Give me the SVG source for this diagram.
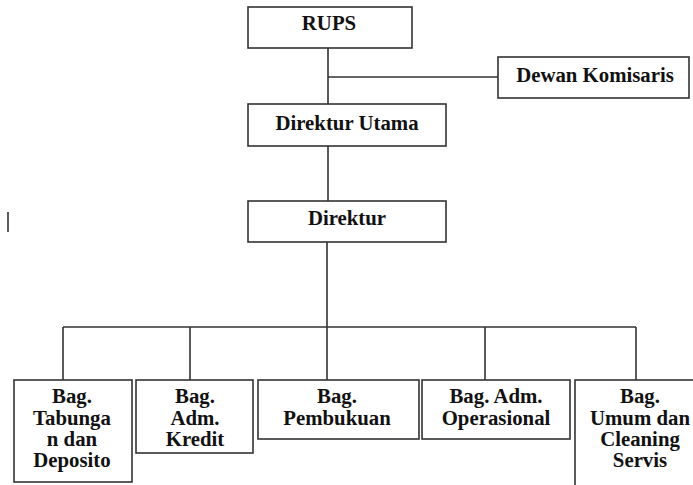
<svg xmlns="http://www.w3.org/2000/svg" width="693" height="485" viewBox="0 0 693 485">
<style>
.box{fill:#fff;stroke:#333;stroke-width:1.6}
.ln{fill:none;stroke:#333;stroke-width:1.6}
text{font-family:"Liberation Serif","Times New Roman",serif;font-weight:bold;font-size:20.8px;fill:#111;text-anchor:middle}
</style>
<rect width="693" height="485" fill="#fff"/>
<g id="connectors">
<path class="ln" d="M328 48V104M328 77H498M328 146V201M327 242V327M63 327H636M63 327V380M190 327V380M327 327V380M485 327V380M636 327V380"/>
<path class="ln" d="M8 212V232"/>
</g>
<g id="rups"><rect class="box" x="248" y="7" width="164" height="41"/><text x="329" y="30">RUPS</text></g>
<g id="dewan"><rect class="box" x="498" y="57" width="191" height="41"/><text x="595" y="82">Dewan Komisaris</text></g>
<g id="dirut"><rect class="box" x="248" y="104" width="198" height="42"/><text x="347" y="130">Direktur Utama</text></g>
<g id="direktur"><rect class="box" x="248" y="201" width="198" height="41"/><text x="347" y="225">Direktur</text></g>
<g id="tabungan"><rect class="box" x="14" y="380" width="118" height="102"/>
<text x="72" y="403">Bag.</text><text x="72" y="425">Tabunga</text><text x="72" y="446">n dan</text><text x="72" y="467">Deposito</text></g>
<g id="kredit"><rect class="box" x="136" y="380" width="117" height="73"/>
<text x="195" y="403">Bag.</text><text x="195" y="425">Adm.</text><text x="195" y="446">Kredit</text></g>
<g id="pembukuan"><rect class="box" x="258" y="380" width="161" height="59"/>
<text x="337" y="403">Bag.</text><text x="337" y="425">Pembukuan</text></g>
<g id="operasional"><rect class="box" x="422" y="380" width="148" height="59"/>
<text x="496" y="403">Bag. Adm.</text><text x="496" y="425">Operasional</text></g>
<g id="umum"><rect class="box" x="575" y="380" width="130" height="115"/>
<text x="640" y="403">Bag.</text><text x="640" y="425">Umum dan</text><text x="640" y="446">Cleaning</text><text x="640" y="467">Servis</text></g>
</svg>
